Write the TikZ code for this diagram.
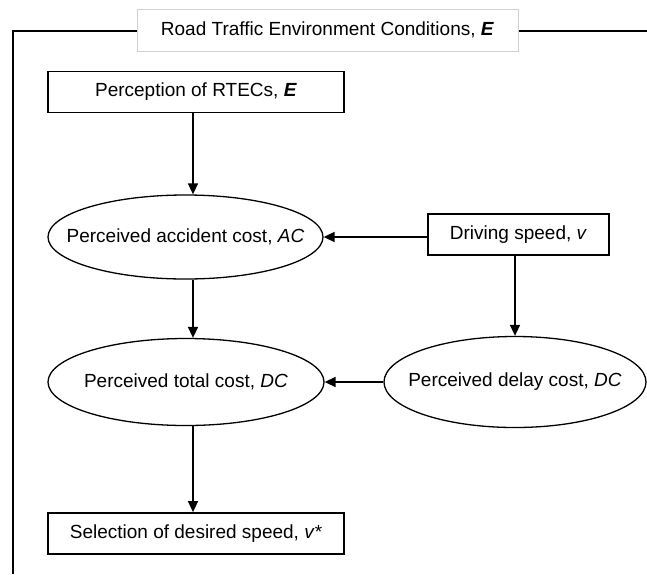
\documentclass[tikz,border=0pt]{standalone}
\usepackage{fontspec}
\setmainfont{Liberation Sans}
\usepackage{tikz}
\usetikzlibrary{arrows.meta,shapes.geometric}

\begin{document}
\begin{tikzpicture}[x=1pt,y={(0,-1pt)},
    font=\fontsize{19}{22}\selectfont,
    box/.style={draw=black,line width=1.8pt,inner sep=0pt,minimum height=41pt},
    oval/.style={ellipse,draw=black,line width=1.3pt,inner sep=0pt},
    arr/.style={line width=1.5pt,-{Triangle[length=11pt,width=10pt]}}]
    \useasboundingbox (0,0) rectangle (647,574);

    % outer frame of the environment
    \draw[line width=2pt] (647,31) -- (13,31) -- (13,574);
    \node[draw=black!18,line width=0.8pt,fill=white,inner sep=0pt,
          minimum width=381pt,minimum height=42pt] (env) at (327.5,30)
          {Road Traffic Environment Conditions, \textbf{\textit{E}}};

    \node[box,minimum width=296pt] (perc) at (196,92) {Perception of RTECs, \textbf{\textit{E}}};
    \node[oval,minimum width=275pt,minimum height=84pt] (acc) at (185.5,237)
          {\makebox[0pt]{Perceived accident cost, \textit{AC}}};
    \node[box,minimum width=181pt] (drv) at (518.5,234.5) {Driving speed, \textit{v}};
    \node[oval,minimum width=276pt,minimum height=87pt] (tot) at (186,382)
          {\makebox[0pt]{Perceived total cost, \textit{DC}}};
    \node[oval,minimum width=262pt,minimum height=91pt] (dly) at (515,382)
          {\makebox[0pt]{Perceived delay cost, \textit{DC}}};
    \node[box,minimum width=296pt] (sel) at (196,533.5) {Selection of desired speed, \textit{v}*};

    \coordinate (col) at (193,0);
    \draw[arr] (perc.south -| col) -- (acc.north -| col);
    \draw[arr] (acc.south -| col) -- (tot.north -| col);
    \draw[arr] (tot.south -| col) -- (sel.north -| col);
    \draw[arr] (drv.west |- acc.east) -- (acc.east);
    \draw[arr] (drv.south -| dly.north) -- (dly.north);
    \draw[arr] (dly.west) -- (tot.east);
  \end{tikzpicture}
\end{document}
